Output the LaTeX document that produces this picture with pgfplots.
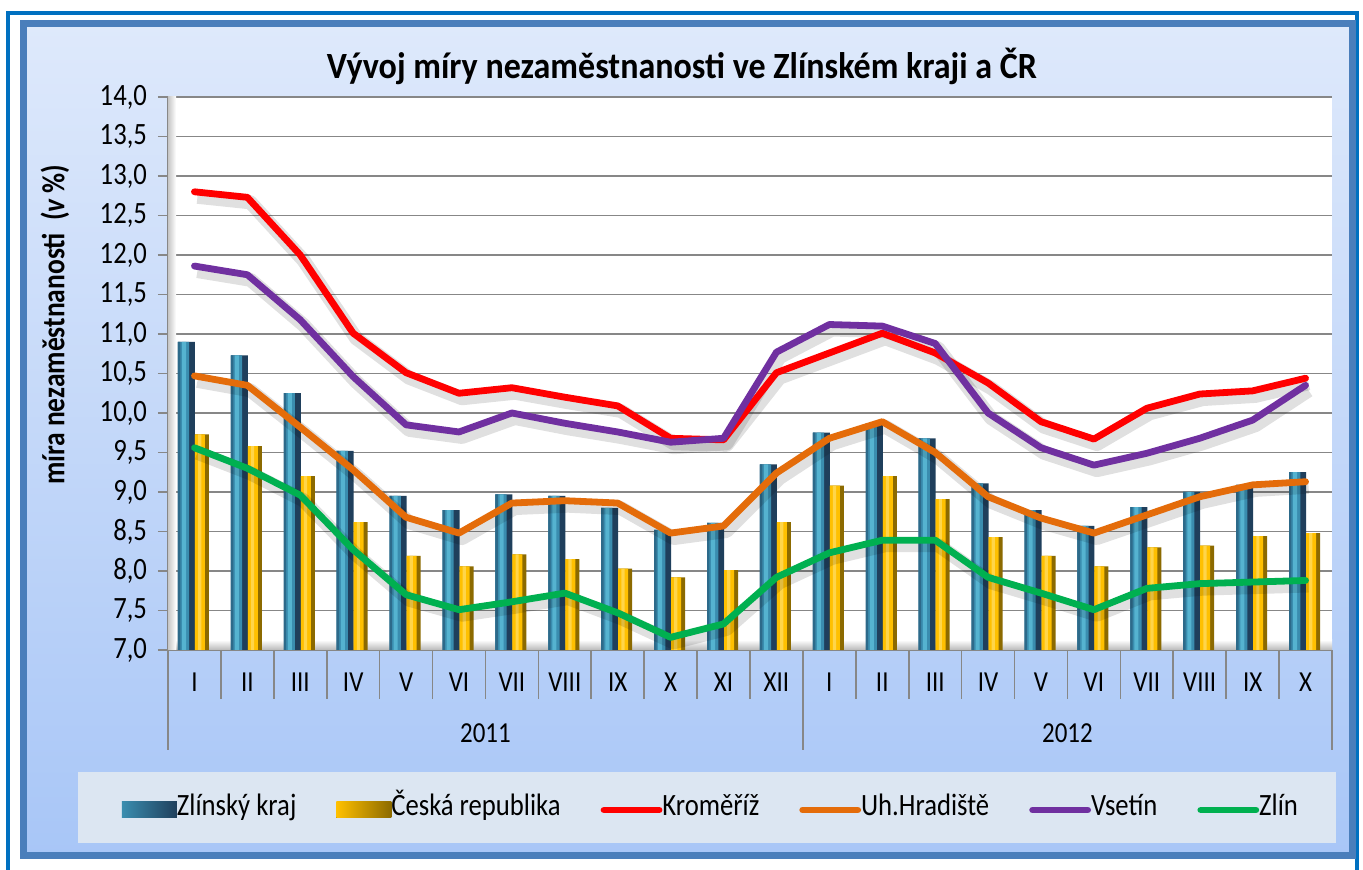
\documentclass[border=0pt]{standalone}
\usepackage{fontspec}
\setmainfont{Carlito}[FakeStretch=0.86]
\newfontfamily\titlefont{Carlito}[FakeStretch=0.92]
\usepackage{pgfplots}
\usepackage{pgfplotstable}
\pgfplotsset{compat=1.18}
\definecolor{outerblue}{HTML}{0070C0}
\definecolor{panelborder}{HTML}{4A7EBB}
\definecolor{paneltop}{HTML}{DEE9FB}
\definecolor{panelbot}{HTML}{A8C6F7}
\definecolor{legfill}{HTML}{DCE6F2}
\definecolor{gridc}{HTML}{878787}
\definecolor{zkL}{HTML}{2D6A8A}
\definecolor{zkA}{HTML}{3A8DAF}
\definecolor{zkB}{HTML}{55B3D0}
\definecolor{zkC}{HTML}{1F3F5C}
\definecolor{crA}{HTML}{FFD54A}
\definecolor{crB}{HTML}{FFC000}
\definecolor{crC}{HTML}{8C6A00}
\definecolor{cKm}{HTML}{FF0000}
\definecolor{cUh}{HTML}{E46C0A}
\definecolor{cVs}{HTML}{7030A0}
\definecolor{cZl}{HTML}{00B050}
\pgfplotsset{
  linelegend/.style={legend image code/.code={\draw[##1] (0pt,0pt) -- (27.5pt,0pt);}},
  zklegend/.style={legend image code/.code={\shade[left color=zkA, middle color=zkB, right color=zkC] (0pt,-4pt) rectangle (27.5pt,4pt);}},
  crlegend/.style={legend image code/.code={\shade[left color=crB, middle color=crA, right color=crC] (0pt,-4pt) rectangle (27.5pt,4pt);}},
  shadowline/.style={black, opacity=0.12, line width=7pt, line join=round, forget plot, xshift=1.5pt, yshift=-2.5pt},
  dataline/.style={line width=3.4pt, line join=round, line cap=round},
}

\pgfplotstableread{
x zk cr km uh vs zl
0 10.90 9.73 12.80 10.47 11.86 9.56
1 10.73 9.58 12.73 10.35 11.75 9.30
2 10.25 9.20 12.00 9.82 11.18 8.96
3 9.52 8.62 11.01 9.28 10.46 8.27
4 8.95 8.19 10.51 8.68 9.85 7.70
5 8.77 8.06 10.25 8.48 9.76 7.51
6 8.97 8.21 10.32 8.86 10.00 7.61
7 8.95 8.15 10.20 8.89 9.87 7.72
8 8.80 8.03 10.09 8.86 9.76 7.47
9 8.52 7.92 9.68 8.48 9.63 7.16
10 8.61 8.01 9.66 8.57 9.68 7.33
11 9.35 8.62 10.51 9.24 10.77 7.92
12 9.75 9.08 10.76 9.68 11.12 8.23
13 9.87 9.20 11.01 9.89 11.10 8.39
14 9.68 8.91 10.76 9.50 10.88 8.39
15 9.11 8.43 10.38 8.94 10.00 7.92
16 8.77 8.19 9.89 8.67 9.56 7.72
17 8.57 8.06 9.67 8.48 9.34 7.51
18 8.81 8.30 10.06 8.71 9.49 7.78
19 9.00 8.32 10.24 8.94 9.68 7.84
20 9.09 8.44 10.28 9.09 9.91 7.86
21 9.25 8.48 10.44 9.13 10.35 7.88
}\data

\begin{document}
\begin{tikzpicture}
\useasboundingbox (0,0) rectangle (681.5pt,435pt);
\begin{scope}[x=0.5pt,y=-0.5pt,shift={(0pt,435pt)}]
  \fill[white] (0,0) rectangle (1363,870);
  \draw[outerblue, line width=2pt] (8,13) rectangle (1357,874);
  \shadedraw[top color=paneltop, bottom color=panelbot, draw=panelborder, line width=3.5pt] (23,24) rectangle (1352,856);
  \fill[legfill] (78,772) rectangle (1336,843);
  \node[font=\titlefont\bfseries\fontsize{18.5}{20}\selectfont] at (682,66) {Vývoj míry nezaměstnanosti ve Zlínském kraji a ČR};
\end{scope}
\begin{axis}[
  at={(84pt,110pt)}, anchor=south west,
  scale only axis, width=582pt, height=276.5pt,
  xmin=-0.5, xmax=21.5, ymin=7, ymax=14,
  axis background/.style={fill=white},
  axis lines*=left,
  axis line style={draw=gridc, line width=0.9pt},
  ymajorgrids, grid style={draw=gridc, line width=0.8pt},
  ytick={7,7.5,...,14},
  ticklabel style={font=\fontsize{15.5}{17}\selectfont},
  yticklabel style={xshift=-2pt, /pgf/number format/.cd, fixed, fixed zerofill, precision=1, use comma, assume math mode=true},
  tick align=outside, major tick length=5pt,
  ytick style={draw=gridc, line width=0.8pt},
  xtick={0,...,21},
  xticklabels={I,II,III,IV,V,VI,VII,VIII,IX,X,XI,XII,I,II,III,IV,V,VI,VII,VIII,IX,X},
  xtick style={draw=none},
  xticklabel style={font=\fontsize{14.5}{16}\selectfont, anchor=center, yshift=-11pt},
  ylabel={míra nezaměstnanosti\ \ (\textit{v}\,\%)},
  ylabel style={at={(axis description cs:-0.0972,0.588)}, anchor=center, font=\bfseries\fontsize{16}{18}\selectfont},
  clip mode=individual,
  legend columns=6,
  legend style={at={(0.4656,-0.2893)}, anchor=center, draw=none, fill=none,
    font=\fontsize{15.5}{17}\selectfont,
    /tikz/every even column/.append style={column sep=20pt},
    nodes={inner sep=0pt, text height=0.8em, text depth=0.2em}},
  linelegend,
]
% 3D floor and wall shading
\shade[top color=white, bottom color=gray!55] (axis cs:-0.5,7) rectangle ([yshift=5pt]axis cs:21.5,7);
\shade[left color=gray!45, right color=white] (axis cs:-0.5,7) rectangle ([xshift=4pt]axis cs:-0.5,14);
% Zlinsky kraj bars
\addplot[ybar, bar width=8.5pt, bar shift=-4pt, draw=none, fill=zkC, zklegend] table[x=x,y=zk]{\data};
\addlegendentry{Zlínský kraj}
\addplot[ybar, bar width=5.6pt, bar shift=-5.45pt, draw=none, fill=zkA, forget plot] table[x=x,y=zk]{\data};
\addplot[ybar, bar width=1.2pt, bar shift=-7.65pt, draw=none, fill=zkL, forget plot] table[x=x,y=zk]{\data};
\addplot[ybar, bar width=2pt, bar shift=-5.2pt, draw=none, fill=zkB, forget plot] table[x=x,y=zk]{\data};
% Ceska republika bars
\addplot[ybar, bar width=7pt, bar shift=3.75pt, draw=none, fill=crC, crlegend] table[x=x,y=cr]{\data};
\addlegendentry{Česká republika}
\addplot[ybar, bar width=5pt, bar shift=2.75pt, draw=none, fill=crB, forget plot] table[x=x,y=cr]{\data};
\addplot[ybar, bar width=1.6pt, bar shift=2.6pt, draw=none, fill=crA, forget plot] table[x=x,y=cr]{\data};
% line shadows
\addplot[shadowline] table[x=x,y=km]{\data};
\addplot[shadowline] table[x=x,y=uh]{\data};
\addplot[shadowline] table[x=x,y=vs]{\data};
\addplot[shadowline] table[x=x,y=zl]{\data};
% lines
\addplot[cKm, dataline] table[x=x,y=km]{\data};
\addlegendentry{Kroměříž}
\addplot[cUh, dataline] table[x=x,y=uh]{\data};
\addlegendentry{Uh.Hradiště}
\addplot[cVs, dataline] table[x=x,y=vs]{\data};
\addlegendentry{Vsetín}
\addplot[cZl, dataline] table[x=x,y=zl]{\data};
\addlegendentry{Zlín}
\pgfplotsinvokeforeach{0.5,1.5,2.5,3.5,4.5,5.5,6.5,7.5,8.5,9.5,10.5,12.5,13.5,14.5,15.5,16.5,17.5,18.5,19.5,20.5}{
  \draw[gridc, line width=0.8pt] (axis cs:#1,7) -- ++(0pt,-24.5pt);
}
\pgfplotsinvokeforeach{-0.5,11.5,21.5}{
  \draw[gridc, line width=0.8pt] (axis cs:#1,7) -- ++(0pt,-50pt);
}
\node[font=\fontsize{14.5}{16}\selectfont] at (axis cs:5.5,7) [yshift=-41.5pt] {2011};
\node[font=\fontsize{14.5}{16}\selectfont] at (axis cs:16.5,7) [yshift=-41.5pt] {2012};
\end{axis}
\end{tikzpicture}
\end{document}
